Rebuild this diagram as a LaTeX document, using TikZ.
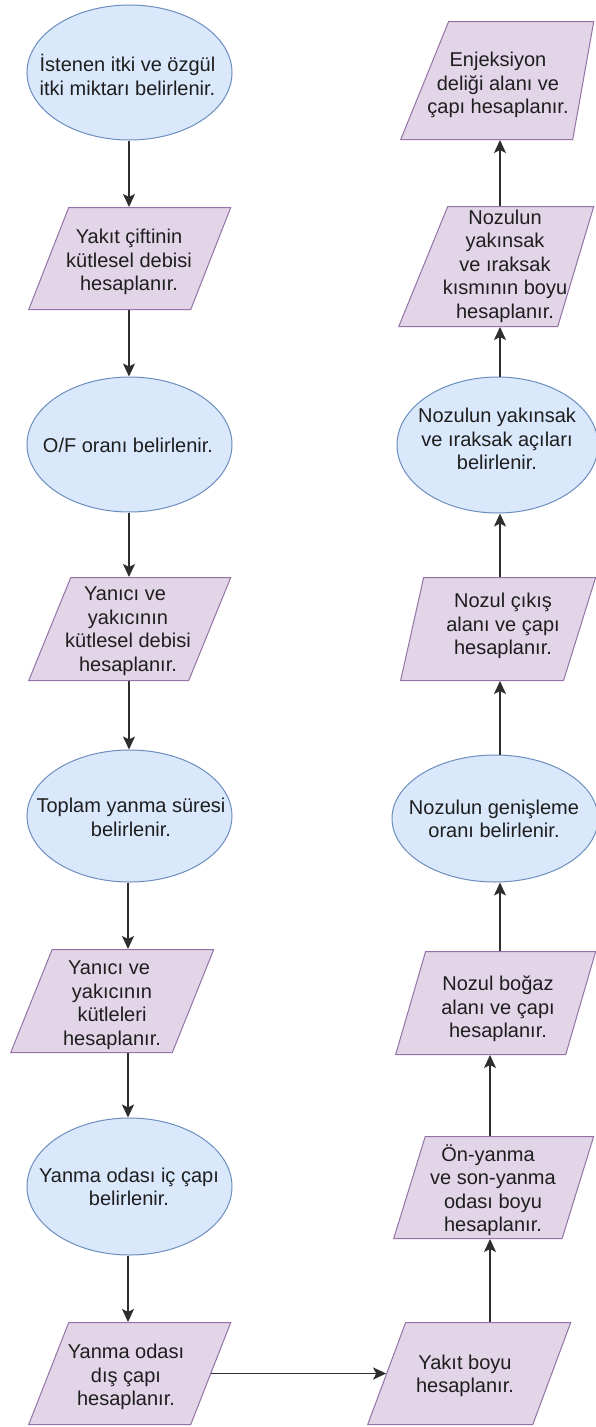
\documentclass[tikz,border=0pt]{standalone}
\usepackage{fontspec}
\setmainfont{Liberation Sans}
\usetikzlibrary{shapes.geometric,arrows.meta}
\definecolor{ovalfill}{HTML}{DAE8FC}
\definecolor{ovalline}{HTML}{6C8EBF}
\definecolor{boxfill}{HTML}{E1D5E7}
\definecolor{boxline}{HTML}{9673A6}
\definecolor{ink}{HTML}{1E1E1E}
\definecolor{wire}{HTML}{2E2E2E}
\begin{document}
\begin{tikzpicture}[x=1pt,y=-1pt,
  every node/.style={font=\fontsize{20}{23.5}\selectfont, text=ink, align=center},
  % oval={width}{height}; empty, the caption is a node of its own
  oval/.style 2 args={ellipse, draw=ovalline, fill=ovalfill, line width=1pt,
      inner sep=0pt, minimum width=#1, minimum height=#2},
  % slab={total width}{height}{left angle}{right angle}; empty, so the
  % height comes from the vertical padding alone
  slab/.style n args={4}{trapezium, draw=boxline, fill=boxfill, line width=1pt,
      inner xsep=1pt, inner ysep=#2/2, trapezium stretches body=true,
      minimum width=#1,
      trapezium left angle=#3, trapezium right angle=#4,
      anchor=bottom left corner},
  txt/.style={inner sep=0pt},
  flow/.style={draw=wire, line width=1.5pt, -{Stealth[length=13pt,width=12pt,inset=3pt]}}
]
\useasboundingbox (0,0) rectangle (595,1427);
\fill[white] (0,0) rectangle (595,1427);

% columns for the connectors
\coordinate (lx) at (129,0);
\coordinate (ly) at (128,0);
\coordinate (ra) at (490,0);
\coordinate (rb) at (500,0);

% left column
\node[oval={205}{135}] (E1) at (129.5,72.5) {};
\node[txt] (tE1) at (127.5,75) {İstenen itki ve özgül\\itki miktarı belirlenir.};
\node[slab={202}{102}{68.6}{111.4}] (P2) at (28,310) {};
\node[txt] (tP2) at (129,262) {Yakıt çiftinin\\kütlesel debisi\\hesaplanır.};
\node[oval={205}{135}] (E3) at (129.5,444.5) {};
\node[txt] (tE3) at (128,445) {O/F oranı belirlenir.};
\node[slab={202}{103}{67.8}{112.2}] (P4) at (28,681) {};
\node[txt] (tP4) at (128,631) {Yanıcı ve\hspace*{0.3em}\\yakıcının\\kütlesel debisi\\hesaplanır.};
\node[oval={205}{132}] (E5) at (129.5,816) {};
\node[txt] (tE5) at (131,817.5) {Toplam yanma süresi\\belirlenir.};
\node[slab={203}{103}{68.1}{111.9}] (P6) at (10,1053) {};
\node[txt] (tP6) at (112,1005) {Yanıcı ve\hspace*{0.3em}\\yakıcının\\kütleleri\\hesaplanır.};
\node[oval={205}{137}] (E7) at (129.5,1186.5) {};
\node[txt] (tE7) at (129,1187) {Yanma odası iç çapı\\belirlenir.};
\node[slab={202}{102}{68.6}{111.4}] (P8) at (28,1425) {};
\node[txt] (tP8) at (126,1377) {Yanma odası\\dış çapı\\hesaplanır.};

% right column
\node[slab={203}{102}{69.6}{110.4}] (R1) at (367,1425) {};
\node[txt] (tR1) at (465,1376) {Yakıt boyu\\hesaplanır.};
\node[slab={200}{102}{72.8}{107.2}] (R2) at (393,1239) {};
\node[txt] (tR2) at (493,1190) {Ön-yanma\hspace*{0.5em}\\ve son-yanma\\odası boyu\\hesaplanır.};
\node[slab={200}{103}{73.8}{106.2}] (R3) at (395,1055) {};
\node[txt] (tR3) at (498,1009) {Nozul boğaz\\alanı ve çapı\\hesaplanır.};
\node[oval={206}{127}] (R4) at (495,818.5) {};
\node[txt] (tR4) at (494,819) {Nozulun genişleme\\oranı belirlenir.};
\node[slab={195}{103}{77.4}{107.3}] (R5) at (400,681) {};
\node[txt] (tR5) at (503,626) {Nozul çıkış\\alanı ve çapı\\hesaplanır.};
\node[oval={201}{136}] (R6) at (497.5,445) {};
\node[txt] (tR6) at (497,439) {Nozulun yakınsak\\ve ıraksak açıları\\belirlenir.};
\node[slab={195}{120}{67.8}{106.7}] (R7) at (398,327) {};
\node[txt] (tR7) at (505,266) {Nozulun\\yakınsak\\ve ıraksak\\kısmının boyu\\hesaplanır.};
\node[slab={193}{118}{67.9}{100.1}] (R8) at (400,140) {};
\node[txt] (tR8) at (498,85) {Enjeksiyon\\deliği alanı ve\\çapı hesaplanır.};

% connectors, left column downwards
\draw[flow] (E1.south -| lx) -- (P2.top side -| lx);
\draw[flow] (P2.bottom side -| lx) -- (E3.north -| lx);
\draw[flow] (E3.south -| lx) -- (P4.top side -| lx);
\draw[flow] (P4.bottom side -| lx) -- (E5.north -| lx);
\draw[flow] (E5.south -| ly) -- (P6.top side -| ly);
\draw[flow] (P6.bottom side -| ly) -- (E7.north -| ly);
\draw[flow] (E7.south -| ly) -- (P8.top side -| ly);
% across the bottom
\draw[flow] (P8.right side) -- (R1.left side);
% right column upwards
\draw[flow] (R1.top side -| ra) -- (R2.bottom side -| ra);
\draw[flow] (R2.top side -| ra) -- (R3.bottom side -| ra);
\draw[flow] (R3.top side -| rb) -- (R4.south -| rb);
\draw[flow] (R4.north -| rb) -- (R5.bottom side -| rb);
\draw[flow] (R5.top side -| rb) -- (R6.south -| rb);
\draw[flow] (R6.north -| rb) -- (R7.bottom side -| rb);
\draw[flow] (R7.top side -| rb) -- (R8.bottom side -| rb);
\end{tikzpicture}
\end{document}
